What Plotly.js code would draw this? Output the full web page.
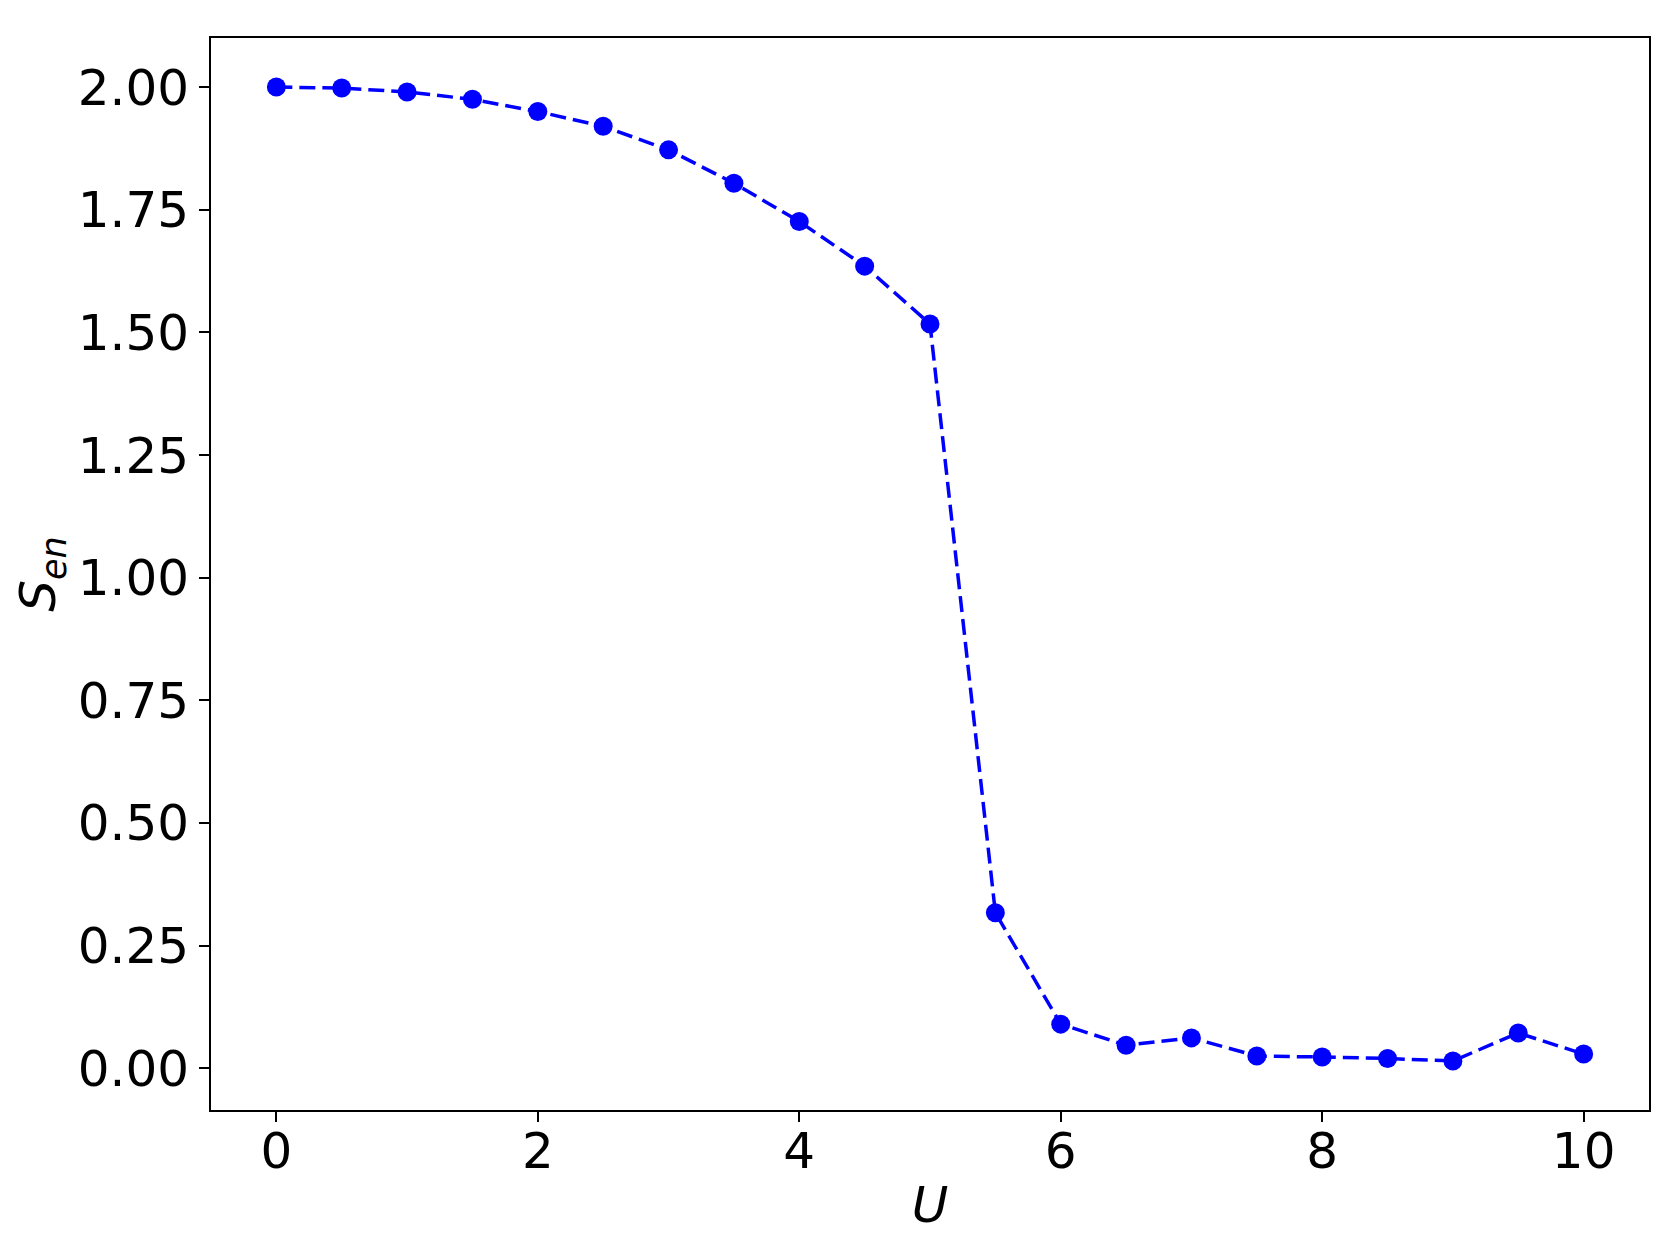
<!DOCTYPE html>
<html>
<head>
<meta charset="utf-8">
<script src="https://cdn.plot.ly/plotly-3.0.1.min.js"></script>
<style>html,body{margin:0;padding:0;background:#fff;}#chart{width:1673px;height:1248px;}</style>
</head>
<body>
<div id="chart"></div>
<script>
const U = [0, 0.5, 1, 1.5, 2, 2.5, 3, 3.5, 4, 4.5, 5, 5.5, 6, 6.5, 7, 7.5, 8, 8.5, 9, 9.5, 10];
const Sen = [2.000, 1.998, 1.990, 1.975, 1.950, 1.920, 1.872, 1.804, 1.726, 1.635, 1.517, 0.317, 0.090, 0.047, 0.062, 0.025, 0.023, 0.020, 0.015, 0.072, 0.029];
const xTicks = [0, 2, 4, 6, 8, 10];
const yTicks = [0, 0.25, 0.5, 0.75, 1.0, 1.25, 1.5, 1.75, 2.0];

const font = 'DejaVu Sans, sans-serif';
const trace = {
  x: U, y: Sen, type: 'scatter', mode: 'lines+markers',
  line: {color: '#0000ff', width: 3.5, dash: '16px,7px'},
  marker: {color: '#0000ff', size: 19},
  showlegend: false
};
const layout = {
  width: 1673, height: 1248,
  paper_bgcolor: '#fff', plot_bgcolor: '#fff',
  margin: {l: 211, r: 24, t: 38, b: 138},
  font: {family: font, color: '#000', size: 50},
  xaxis: {
    range: [-0.5, 10.5], tickvals: xTicks, ticktext: xTicks.map(String),
    showline: true, mirror: true, linecolor: '#000', linewidth: 2,
    ticks: 'outside', ticklen: 10, tickwidth: 2, tickcolor: '#000',
    ticklabelstandoff: -14,
    showgrid: false, zeroline: false,
    tickfont: {family: font, size: 50, color: '#000'},
    title: {text: '<i>U</i>', font: {family: font, size: 50, color: '#000'}, standoff: 8},
    automargin: false
  },
  yaxis: {
    range: [-0.085, 2.1], tickvals: yTicks, ticktext: yTicks.map(v => v.toFixed(2)),
    showline: true, mirror: true, linecolor: '#000', linewidth: 2,
    ticks: 'outside', ticklen: 10, tickwidth: 2, tickcolor: '#000',
    showgrid: false, zeroline: false,
    tickfont: {family: font, size: 50, color: '#000'},
    title: {text: '<i>S<sub>en</sub></i>', font: {family: font, size: 50, color: '#000'}, standoff: 6},
    automargin: false
  }
};
Plotly.newPlot('chart', [trace], layout, {displayModeBar: false, staticPlot: true});
</script>
</body>
</html>
